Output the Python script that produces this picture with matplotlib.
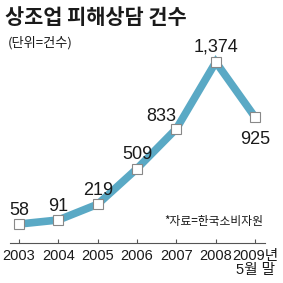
import matplotlib.pyplot as plt
from matplotlib import font_manager

years = ["2003", "2004", "2005", "2006", "2007", "2008", "2009년\n5월 말"]
counts = [58, 91, 219, 509, 833, 1374, 925]
label_text = ["58", "91", "219", "509", "833", "1,374", "925"]
# label offsets in points (dx, dy)
label_off = [(0, 10), (0, 10), (0, 10), (0, 10), (-11, 9), (0, 11), (0, -16)]

names = {f.name for f in font_manager.fontManager.ttflist}
num_font = ["Liberation Sans Narrow"] if "Liberation Sans Narrow" in names else ["Liberation Sans"]
kr = ["Noto Sans CJK KR", "DejaVu Sans"]
plt.rcParams["font.family"] = kr

line_c = "#5aa9c5"
ink = "#1a1a1a"

fig = plt.figure(figsize=(2.83, 2.83), dpi=100)
fig.patch.set_facecolor("white")
ax = fig.add_axes([10 / 283, 1 - 243 / 283, 255 / 283, 203 / 283])

x = list(range(len(counts)))
ax.plot(x, counts, color=line_c, lw=5.5, solid_joinstyle="miter", zorder=2)
ax.plot(x, counts, ls="none", marker="s", ms=6.5, mfc="white", mec="#888888", mew=0.8, zorder=3)

for xi, v, t, (dx, dy) in zip(x, counts, label_text, label_off):
    ax.annotate(t, (xi, v), xytext=(dx, dy), textcoords="offset points",
                ha="center", va="center", fontsize=13, family=num_font + kr,
                color=ink)

ax.set_xlim(-0.23, 6.25)
ax.set_ylim(-96, 1553)
ax.set_xticks(x)
ax.set_xticklabels(years, fontsize=10.5, family=num_font + kr, color=ink, linespacing=1.0)
ax.tick_params(axis="x", direction="in", length=3, width=0.8, color="#555555", pad=4)
ax.set_yticks([])
for s in ["top", "right", "left"]:
    ax.spines[s].set_visible(False)
ax.spines["bottom"].set_color("#555555")
ax.spines["bottom"].set_linewidth(0.8)
ax.patch.set_alpha(0)

fig.text(5 / 283, 1 - 17 / 283, "상조업 피해상담 건수", fontsize=15, fontweight="bold",
         color=ink, ha="left", va="center")
fig.text(8 / 283, 1 - 43 / 283, "(단위=건수)", fontsize=9.5, color=ink, ha="left", va="center")
fig.text(263 / 283, 1 - 222 / 283, "*자료=한국소비자원", fontsize=8.5, color=ink,
         ha="right", va="center")

fig.savefig("out.png", dpi=100, facecolor="white")
